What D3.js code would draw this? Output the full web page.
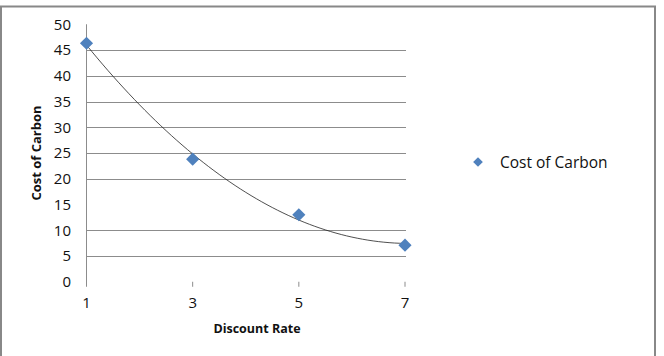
<!DOCTYPE html>
<html>
<head>
<meta charset="utf-8">
<script src="https://cdn.jsdelivr.net/npm/d3@7"></script>
<style>
  body { margin: 0; background: #fff; }
  svg text { font-family: "Open Sans", "Noto Sans", sans-serif; fill: #111; }
</style>
</head>
<body>
<div id="chart"></div>
<script>
// dades llegides del grafic
const discountRates = [1, 3, 5, 7];
const costOfCarbon = [46.3, 23.8, 13, 7.1];
const yTicks = [0, 5, 10, 15, 20, 25, 30, 35, 40, 45, 50];
const gridValues = [5, 10, 20, 25, 30, 35, 40, 45];
const xTicks = [1, 3, 5, 7];
const seriesName = "Cost of Carbon";

const W = 664, H = 356;
const svg = d3.select("#chart").append("svg")
    .attr("width", W)
    .attr("height", H);

// marc exterior
svg.append("rect")
    .attr("x", 1).attr("y", 6.5)
    .attr("width", 654).attr("height", 360)
    .attr("fill", "#fff")
    .attr("stroke", "#888")
    .attr("stroke-width", 2);

// escales
const x = d3.scaleLinear().domain([1, 7]).range([86.5, 405]);
const y = d3.scaleLinear().domain([0, 50]).range([281.75, 24.25]);

// linies de graella
svg.selectAll(".grid")
    .data(gridValues)
    .enter().append("line")
    .attr("class", "grid")
    .attr("x1", x(1)).attr("x2", x(7) + 1)
    .attr("y1", d => Math.round(y(d)) + 0.5)
    .attr("y2", d => Math.round(y(d)) + 0.5)
    .attr("stroke", "#8c8c8c")
    .attr("stroke-width", 1);

// eix Y
svg.append("line")
    .attr("x1", x(1)).attr("x2", x(1))
    .attr("y1", y(50)).attr("y2", y(0) + 5)
    .attr("stroke", "#8c8c8c");

svg.selectAll(".ylab")
    .data(yTicks)
    .enter().append("text")
    .attr("class", "ylab")
    .attr("x", 71)
    .attr("y", d => y(d))
    .attr("dy", "0.36em")
    .attr("text-anchor", "end")
    .style("font-size", "15px")
    .text(d => d);

// eix X: marques i etiquetes
svg.selectAll(".xtick")
    .data(xTicks.slice(1))
    .enter().append("line")
    .attr("class", "xtick")
    .attr("x1", d => x(d)).attr("x2", d => x(d))
    .attr("y1", y(0)).attr("y2", y(0) + 5)
    .attr("stroke", "#8c8c8c");

svg.selectAll(".xlab")
    .data(xTicks)
    .enter().append("text")
    .attr("class", "xlab")
    .attr("x", d => x(d))
    .attr("y", 303)
    .attr("dy", "0.36em")
    .attr("text-anchor", "middle")
    .style("font-size", "15px")
    .text(d => d);

// titols dels eixos
svg.append("text")
    .attr("x", 257)
    .attr("y", 328)
    .attr("dy", "0.36em")
    .attr("text-anchor", "middle")
    .style("font-size", "12.5px")
    .style("font-weight", "bold")
    .text("Discount Rate");

svg.append("text")
    .attr("transform", "translate(36,153) rotate(-90)")
    .attr("dy", "0.36em")
    .attr("text-anchor", "middle")
    .style("font-size", "13px")
    .style("font-weight", "bold")
    .text("Cost of Carbon");

// linia de tendencia polinomica (ordre 2, minims quadrats)
const pts = discountRates.map((d, i) => ({ x: d, y: costOfCarbon[i] }));
const mx = d3.mean(discountRates);
const n = pts.length;
const t = pts.map(p => p.x - mx);
const s2 = d3.sum(t, v => v * v), s4 = d3.sum(t, v => v ** 4);
const sy = d3.sum(pts, p => p.y);
const sty = d3.sum(pts, (p, i) => t[i] * p.y);
const st2y = d3.sum(pts, (p, i) => t[i] * t[i] * p.y);
const b = sty / s2;
const c = (st2y - s2 * sy / n) / (s4 - s2 * s2 / n);
const a = (sy - c * s2) / n;
const trend = d3.range(0, 61).map(k => {
    const xv = 1 + k * 0.1;
    const tv = xv - mx;
    return [xv, a + b * tv + c * tv * tv];
});

svg.append("path")
    .datum(trend)
    .attr("fill", "none")
    .attr("stroke", "#222")
    .attr("stroke-width", 0.8)
    .attr("d", d3.line().x(d => x(d[0])).y(d => y(d[1])));

// punts
const diamond = d3.symbol().type(d3.symbolDiamond2).size(110);
svg.selectAll(".punt")
    .data(pts)
    .enter().append("path")
    .attr("class", "punt")
    .attr("transform", d => `translate(${x(d.x)},${y(d.y)})`)
    .attr("d", diamond)
    .attr("fill", "#4f81bd");

// llegenda
svg.append("path")
    .attr("transform", "translate(478,162)")
    .attr("d", d3.symbol().type(d3.symbolDiamond2).size(60))
    .attr("fill", "#4f81bd");

svg.append("text")
    .attr("x", 500)
    .attr("y", 162)
    .attr("dy", "0.36em")
    .style("font-size", "15.5px")
    .text(seriesName);
</script>
</body>
</html>
